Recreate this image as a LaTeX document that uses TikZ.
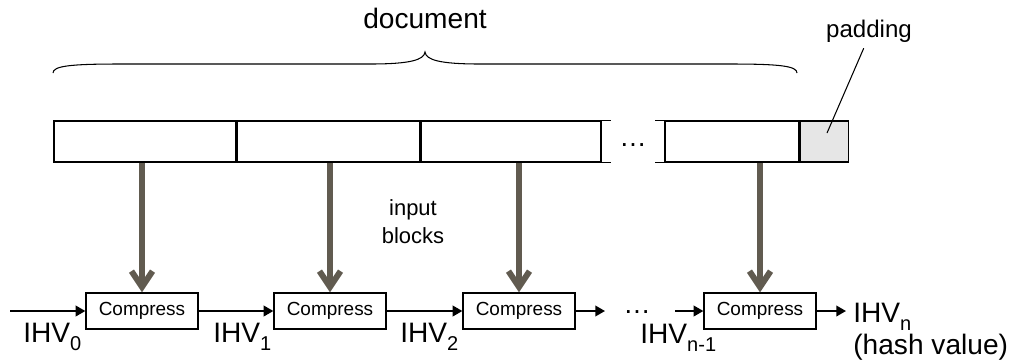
\documentclass[tikz,border=0pt]{standalone}
\usepackage{fontspec}
\setmainfont{Liberation Sans}
\usepackage{tikz}
\usetikzlibrary{arrows.meta,positioning}
\definecolor{feedgray}{HTML}{615B50}
\definecolor{padgray}{HTML}{E6E6E6}
\newcommand{\lowsub}[1]{\raisebox{-5pt}[0pt][0pt]{\fontsize{11.4}{12}\selectfont #1}}

\begin{document}
\begin{tikzpicture}[x=0.02cm, y=-0.02cm, >=Triangle,
  blk/.style={draw, line width=0.85pt, minimum height=0.82cm, inner sep=0pt},
  cmp/.style={draw, line width=0.75pt, minimum width=2.24cm, minimum height=0.72cm, inner sep=0pt, font=\fontsize{10.8}{12}\selectfont},
  feed/.style={draw=feedgray, line width=3.4pt, -{Straight Barb[length=9pt, width=12pt]}},
  chain/.style={line width=1.1pt, -{Triangle[length=5.5pt, width=6pt]}},
  ihv/.style={anchor=base west, inner sep=0pt, font=\fontsize{16}{16}\selectfont}]
\useasboundingbox (0,0) rectangle (1013,363);
% message blocks
\node[blk, minimum width=3.64cm] (B1) at (145,141.5) {};
\node[blk, minimum width=3.64cm, right=0pt of B1] (B2) {};
\node[blk, minimum width=3.60cm, right=0pt of B2] (B3) {};
\node[blk, minimum width=2.68cm] (B4) at (732,141.5) {};
\node[blk, minimum width=0.96cm, fill=padgray, right=0pt of B4] (P) {};
\draw[line width=0.85pt] (B3.north east) -- +(9,0) (B3.south east) -- +(9,0);
\draw[line width=0.85pt] (B4.north west) -- +(-9,0) (B4.south west) -- +(-9,0);
\node[font=\fontsize{15.6}{16}\selectfont, anchor=base] (dots1) at (633,146) {…};
% brace and labels
\coordinate (brL) at (53,73);
\coordinate (brR) at (797,73);
\draw[line width=0.6pt] (brL) .. controls (53,66) and (70,64) .. (120,64) -- (370,64)
  .. controls (410,64) and (424,60) .. (425,52)
  .. controls (426,60) and (440,64) .. (480,64) -- (730,64)
  .. controls (780,64) and (797,66) .. (brR);
\node[font=\fontsize{16}{16}\selectfont, anchor=base] (doc) at (425,28) {document};
\node[font=\fontsize{13.7}{15}\selectfont, anchor=base] (pad) at (869,37) {padding};
\coordinate (padin) at (827,133);
\draw[line width=0.6pt] ([xshift=-3pt]pad.south) -- (padin);
\node[font=\fontsize{12.5}{16}\selectfont, align=center] (inp) at (413,222) {input\\blocks};
% compression chain
\node[cmp] (C1) at (142,311) {Compress};
\node[cmp] (C2) at (330,311) {Compress};
\node[cmp] (C3) at (519,311) {Compress};
\node[cmp] (C4) at (760,311) {Compress};
\foreach \b/\c in {B1/C1,B2/C2,B3/C3,B4/C4}
  \draw[feed] (\c.north |- \b.south) -- (\c.north);
\coordinate (in0) at (10,311);
\coordinate (out3) at (605,311);
\coordinate (in4) at (675,311);
\coordinate (outn) at (846,311);
\draw[chain] (in0) -- (C1.west);
\draw[chain] (C1.east) -- (C2.west);
\draw[chain] (C2.east) -- (C3.west);
\draw[chain] (C3.east) -- (out3);
\draw[chain] (in4) -- (C4.west);
\draw[chain] (C4.east) -- (outn);
\node[font=\fontsize{15.6}{16}\selectfont, anchor=base] (dots2) at (637,313) {…};
\node[ihv] (h0) at (23,342) {IHV\lowsub{0}};
\node[ihv] (h1) at (213,342) {IHV\lowsub{1}};
\node[ihv] (h2) at (400,342) {IHV\lowsub{2}};
\node[ihv] (hn1) at (640,343) {IHV\lowsub{n-1}};
\node[ihv] (hn) at (853,322) {IHV\lowsub{n}};
\node[ihv] (hv) at (853,354) {(hash value)};
\end{tikzpicture}
\end{document}
